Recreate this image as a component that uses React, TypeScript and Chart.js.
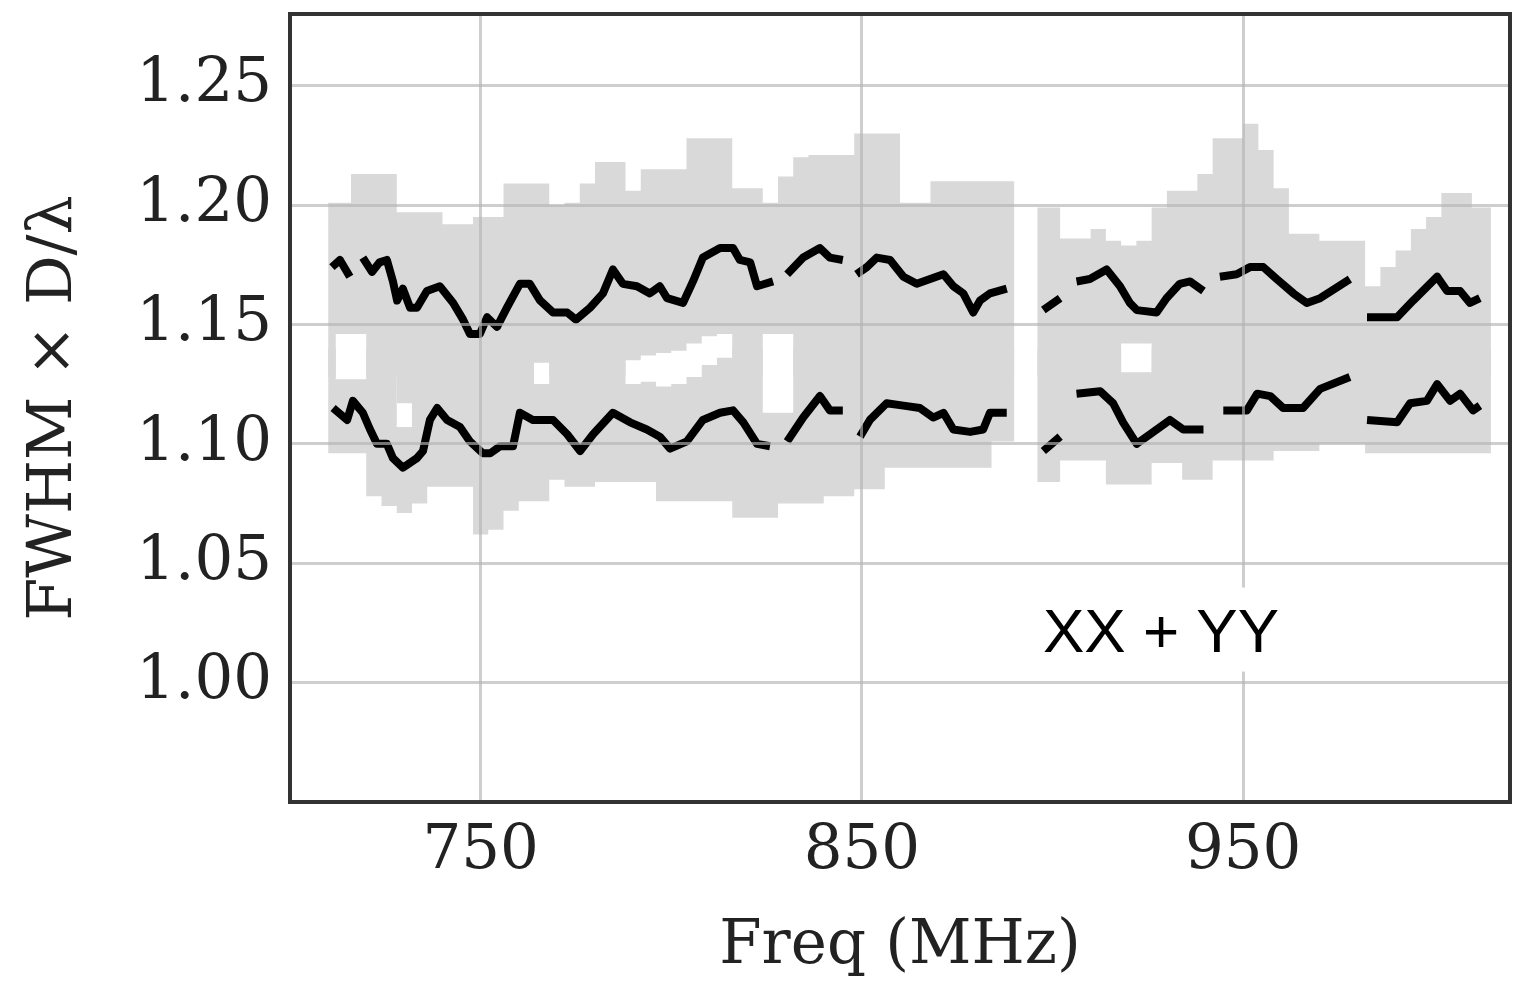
import React, { useEffect, useRef } from 'react';
import { Chart, registerables } from 'chart.js';

Chart.register(...registerables);

// Axis ticks
const xTicks = [750, 850, 950];
const yTicks = [1.0, 1.05, 1.1, 1.15, 1.2, 1.25];

// Upper curve (null = gap)
const upperFreq = [
  711.0, 713.1, 715.7, 717.5, 719.1, 721.5, 723.5, 725.4, 727.0, 728.1, 729.6, 731.5, 733.3, 735.9, 739.3,
  742.8, 745.4, 747.2, 749.8, 751.7, 754.3, 756.9, 760.3, 762.9, 765.6, 769.0, 772.7, 775.0, 778.7, 782.1,
  784.7, 787.3, 791.0, 794.4, 797.0, 798.9, 803.1, 805.7, 808.3, 812.8, 816.2, 818.0, 820.7, 822.5, 826.7,
  828.5, 830.4, 834.6, 839.0, 841.6, 845.0, 846.8, 848.6, 851.3, 853.9, 857.4, 860.9, 864.4, 867.9, 871.4,
  874.0, 876.6, 879.2, 881.0, 883.6, 888.0, 893.0, 897.6, 902.0, 904.0, 906.3, 909.8, 914.2, 917.7, 920.3,
  922.1, 927.3, 929.9, 933.4, 936.1, 939.6, 941.5, 943.9, 948.3, 951.8, 955.3, 958.8, 963.2, 966.7, 970.2,
  978.0, 980.0, 982.5, 990.4, 994.6, 1000.9, 1003.5, 1006.9, 1009.5, 1012.1,
];
const upperVals = [
  1.174, 1.177, 1.170, null, 1.178, 1.172, 1.176, 1.177, 1.168, 1.160, 1.165, 1.157, 1.157, 1.164, 1.166,
  1.159, 1.152, 1.146, 1.146, 1.153, 1.149, 1.157, 1.167, 1.167, 1.160, 1.155, 1.155, 1.152, 1.157, 1.163,
  1.173, 1.167, 1.166, 1.163, 1.166, 1.161, 1.159, 1.168, 1.178, 1.182, 1.182, 1.177, 1.176, 1.166, 1.168,
  null, 1.171, 1.178, 1.182, 1.178, 1.177, null, 1.171, 1.174, 1.178, 1.177, 1.170, 1.167, 1.169, 1.171,
  1.166, 1.163, 1.155, 1.160, 1.163, 1.165, null, 1.156, 1.161, null, 1.168, 1.169, 1.173, 1.166, 1.159,
  1.156, 1.155, 1.161, 1.167, 1.168, 1.164, null, 1.170, 1.171, 1.174, 1.174, 1.169, 1.163, 1.159, 1.161,
  1.169, null, 1.153, 1.153, 1.160, 1.170, 1.164, 1.164, 1.159, 1.161,
];

// Lower curve (null = gap)
const lowerFreq = [
  711.3, 715.0, 716.5, 719.1, 721.0, 722.8, 725.4, 727.0, 729.6, 733.3, 734.9, 736.7, 738.6, 741.2, 744.6,
  747.2, 750.6, 752.5, 755.1, 758.5, 760.3, 763.7, 769.0, 772.7, 776.1, 779.5, 784.7, 789.2, 793.6, 797.0,
  799.7, 804.1, 808.3, 812.8, 816.2, 818.9, 822.5, 825.9, 828.5, 830.4, 834.6, 839.0, 841.6, 845.0, 847.0,
  849.5, 852.1, 856.5, 860.9, 865.2, 868.7, 871.4, 874.0, 878.4, 881.8, 883.6, 888.0, 893.0, 897.6, 902.0,
  904.0, 906.3, 912.5, 915.9, 918.5, 922.1, 925.6, 930.8, 934.3, 939.6, 941.5, 944.8, 951.0, 953.7, 957.1,
  960.5, 965.7, 970.2, 978.0, 980.0, 982.5, 990.4, 993.8, 998.2, 1000.9, 1004.3, 1006.9, 1010.3, 1012.1,
];
const lowerVals = [
  1.115, 1.110, 1.118, 1.113, 1.106, 1.100, 1.100, 1.094, 1.090, 1.094, 1.097, 1.110, 1.115, 1.110, 1.107,
  1.101, 1.096, 1.096, 1.099, 1.099, 1.113, 1.110, 1.110, 1.104, 1.097, 1.104, 1.113, 1.109, 1.106, 1.103,
  1.098, 1.101, 1.110, 1.113, 1.114, 1.109, 1.100, 1.099, null, 1.101, 1.111, 1.120, 1.114, 1.114, null,
  1.103, 1.110, 1.117, 1.116, 1.115, 1.111, 1.113, 1.106, 1.105, 1.106, 1.113, 1.113, null, 1.097, 1.103,
  null, 1.121, 1.122, 1.117, 1.109, 1.100, 1.104, 1.110, 1.106, 1.106, null, 1.114, 1.114, 1.121, 1.120,
  1.115, 1.115, 1.123, 1.128, null, 1.110, 1.109, 1.117, 1.118, 1.125, 1.118, 1.121, 1.114, 1.116,
];

// Grey spread bands (shared frequency grid; null = gap)
const bandFreq = [
  710, 714, 718, 722, 726, 730, 734, 738, 742, 746, 750, 754, 758, 762, 766, 770, 774, 778, 782, 786,
  790, 794, 798, 802, 806, 810, 814, 818, 822, 826, 830, 834, 838, 842, 846, 850, 854, 858, 862, 866,
  870, 874, 878, 882, 886, 890, 893, 896, 900, 904, 908, 912, 916, 920, 924, 928, 932, 936, 940, 944,
  948, 952, 956, 960, 964, 968, 972, 976, 980, 984, 988, 992, 996, 1000, 1004, 1008, 1012, 1015,
];
// top of upper band
const bandUpperTop = [
  1.201, 1.201, 1.213, 1.213, 1.213, 1.197, 1.197, 1.197, 1.192, 1.192, 1.195, 1.195, 1.209, 1.209, 1.209, 1.200, 1.201, 1.209, 1.218, 1.218,
  1.206, 1.215, 1.215, 1.215, 1.228, 1.228, 1.228, 1.207, 1.207, 1.201, 1.212, 1.220, 1.221, 1.221, 1.221, 1.230, 1.230, 1.230, 1.201, 1.201,
  1.210, 1.210, 1.210, 1.210, 1.210, 1.210, null, 1.199, 1.199, 1.186, 1.186, 1.190, 1.185, 1.183, 1.185, 1.199, 1.206, 1.206, 1.213, 1.228,
  1.228, 1.234, 1.223, 1.207, 1.188, 1.188, 1.185, 1.185, 1.185, 1.166, 1.174, 1.181, 1.190, 1.195, 1.205, 1.205, 1.199, 1.199,
];
// bottom of upper band
const bandUpperBottom = [
  1.128, 1.146, 1.146, 1.128, 1.128, 1.117, 1.128, 1.128, 1.128, 1.128, 1.128, 1.128, 1.128, 1.128, 1.134, 1.128, 1.128, 1.128, 1.128, 1.128,
  1.135, 1.137, 1.138, 1.139, 1.142, 1.145, 1.146, 1.128, 1.128, 1.146, 1.146, 1.128, 1.128, 1.128, 1.128, 1.128, 1.128, 1.128, 1.128, 1.128,
  1.128, 1.128, 1.128, 1.128, 1.128, 1.128, null, 1.128, 1.128, 1.128, 1.128, 1.128, 1.128, 1.142, 1.142, 1.128, 1.128, 1.128, 1.128, 1.128,
  1.128, 1.128, 1.128, 1.128, 1.128, 1.128, 1.128, 1.128, 1.128, 1.128, 1.128, 1.128, 1.128, 1.128, 1.128, 1.128, 1.128, 1.128,
];
// top of lower band
const bandLowerTop = [
  1.140, 1.127, 1.127, 1.140, 1.140, 1.107, 1.140, 1.140, 1.140, 1.140, 1.140, 1.140, 1.140, 1.140, 1.125, 1.140, 1.140, 1.140, 1.140, 1.140,
  1.125, 1.126, 1.124, 1.125, 1.128, 1.133, 1.136, 1.140, 1.140, 1.113, 1.113, 1.140, 1.140, 1.140, 1.140, 1.140, 1.140, 1.140, 1.140, 1.140,
  1.140, 1.140, 1.140, 1.140, 1.140, 1.140, null, 1.140, 1.140, 1.140, 1.140, 1.140, 1.140, 1.130, 1.130, 1.140, 1.140, 1.140, 1.140, 1.140,
  1.140, 1.140, 1.140, 1.140, 1.140, 1.140, 1.140, 1.140, 1.140, 1.140, 1.140, 1.140, 1.140, 1.140, 1.140, 1.140, 1.140, 1.140,
];
// bottom of lower band
const bandLowerBottom = [
  1.096, 1.096, 1.096, 1.078, 1.074, 1.071, 1.075, 1.082, 1.082, 1.082, 1.062, 1.064, 1.072, 1.076, 1.076, 1.085, 1.082, 1.082, 1.084, 1.084,
  1.084, 1.084, 1.076, 1.076, 1.076, 1.076, 1.076, 1.069, 1.069, 1.069, 1.075, 1.075, 1.075, 1.078, 1.078, 1.081, 1.081, 1.090, 1.090, 1.090,
  1.090, 1.090, 1.090, 1.090, 1.101, 1.101, null, 1.084, 1.084, 1.093, 1.093, 1.093, 1.083, 1.083, 1.083, 1.092, 1.092, 1.085, 1.085, 1.093,
  1.093, 1.093, 1.093, 1.097, 1.097, 1.097, 1.100, 1.100, 1.100, 1.096, 1.096, 1.096, 1.096, 1.096, 1.096, 1.096, 1.096, 1.096,
];

// Annotation
const annotationText = 'XX + YY';
const annotationAnchor = { x: 897.5, y: 1.013 };

const SERIF = '"DejaVu Serif", serif';
const BAND = '#d9d9d9';
const GRID = 'rgba(180,180,180,0.65)';

export default function App() {
  const ref = useRef<HTMLCanvasElement>(null);

  useEffect(() => {
    const canvas = ref.current;
    if (!canvas) return;
    const pts = (xs: number[], ys: (number | null)[]) => xs.map((x, i) => ({ x, y: ys[i] }));

    const overlay = {
      id: 'overlay',
      afterDraw(chart: any) {
        const { ctx, chartArea: a, scales } = chart;
        ctx.save();
        // annotation box
        ctx.font = '62px "Liberation Sans", Arial, sans-serif';
        const px = scales.x.getPixelForValue(annotationAnchor.x);
        const py = scales.y.getPixelForValue(annotationAnchor.y);
        const w = ctx.measureText(annotationText).width;
        ctx.fillStyle = '#ffffff';
        ctx.fillRect(px - 14, py - 64, w + 28, 84);
        ctx.fillStyle = '#000000';
        ctx.textBaseline = 'alphabetic';
        ctx.textAlign = 'left';
        ctx.fillText(annotationText, px, py);
        // frame
        ctx.strokeStyle = '#333333';
        ctx.lineWidth = 4;
        ctx.strokeRect(a.left, a.top, a.right - a.left, a.bottom - a.top);
        ctx.restore();
      },
    };

    const lineDs = (data: any) => ({
      data,
      borderColor: '#000000',
      borderWidth: 8,
      pointRadius: 0,
      fill: false,
      spanGaps: false,
      borderJoinStyle: 'round' as const,
      tension: 0,
    });
    const bandDs = (data: any, fill: any) => ({
      data,
      borderColor: 'rgba(0,0,0,0)',
      borderWidth: 0,
      backgroundColor: BAND,
      pointRadius: 0,
      fill,
      spanGaps: false,
      stepped: 'middle' as const,
    });

    const chart = new Chart(canvas, {
      type: 'line',
      data: {
        datasets: [
          lineDs(pts(upperFreq, upperVals)),
          lineDs(pts(lowerFreq, lowerVals)),
          bandDs(pts(bandFreq, bandUpperTop), false),
          bandDs(pts(bandFreq, bandUpperBottom), 2),
          bandDs(pts(bandFreq, bandLowerTop), false),
          bandDs(pts(bandFreq, bandLowerBottom), 4),
        ] as any,
      },
      options: {
        responsive: false,
        animation: false,
        events: [],
        layout: { padding: { left: 0, top: 14, right: 21, bottom: 0 } },
        plugins: { legend: { display: false }, tooltip: { enabled: false } },
        scales: {
          x: {
            type: 'linear',
            min: 700,
            max: 1020,
            afterBuildTicks: (s: any) => {
              s.ticks = xTicks.map((v) => ({ value: v }));
            },
            afterFit: (s: any) => {
              s.height = 180;
              s.paddingLeft = 0;
              s.paddingRight = 0;
            },
            grid: { color: GRID, lineWidth: 3, drawTicks: false, z: 1 },
            border: { display: false },
            ticks: {
              font: { family: SERIF, size: 61 },
              color: '#222222',
              padding: 14,
              maxRotation: 0,
              autoSkip: false,
              callback: (v: any) => String(v),
            },
            title: {
              display: true,
              text: 'Freq (MHz)',
              color: '#222222',
              font: { family: SERIF, size: 61, lineHeight: 1 },
              padding: { top: 0, bottom: 4 },
            },
          },
          y: {
            type: 'linear',
            min: 0.95,
            max: 1.28,
            afterBuildTicks: (s: any) => {
              s.ticks = yTicks.map((v) => ({ value: v }));
            },
            afterFit: (s: any) => {
              s.width = 290;
              s.paddingTop = 0;
              s.paddingBottom = 0;
            },
            grid: { color: GRID, lineWidth: 3, drawTicks: false, z: 1 },
            border: { display: false },
            ticks: {
              font: { family: SERIF, size: 61 },
              color: '#222222',
              padding: 18,
              autoSkip: false,
              callback: (v: any) => Number(v).toFixed(2),
            },
            title: {
              display: true,
              text: 'FWHM × D/λ',
              color: '#222222',
              font: { family: SERIF, size: 62, lineHeight: 1 },
              padding: { top: 24, bottom: 0 },
            },
          },
        },
      } as any,
      plugins: [overlay],
    });

    return () => chart.destroy();
  }, []);

  return (
    <div style={{ position: 'absolute', left: 0, top: 0, width: 1531, height: 982, background: '#ffffff' }}>
      <canvas ref={ref} width={1531} height={982} style={{ display: 'block' }} />
    </div>
  );
}
